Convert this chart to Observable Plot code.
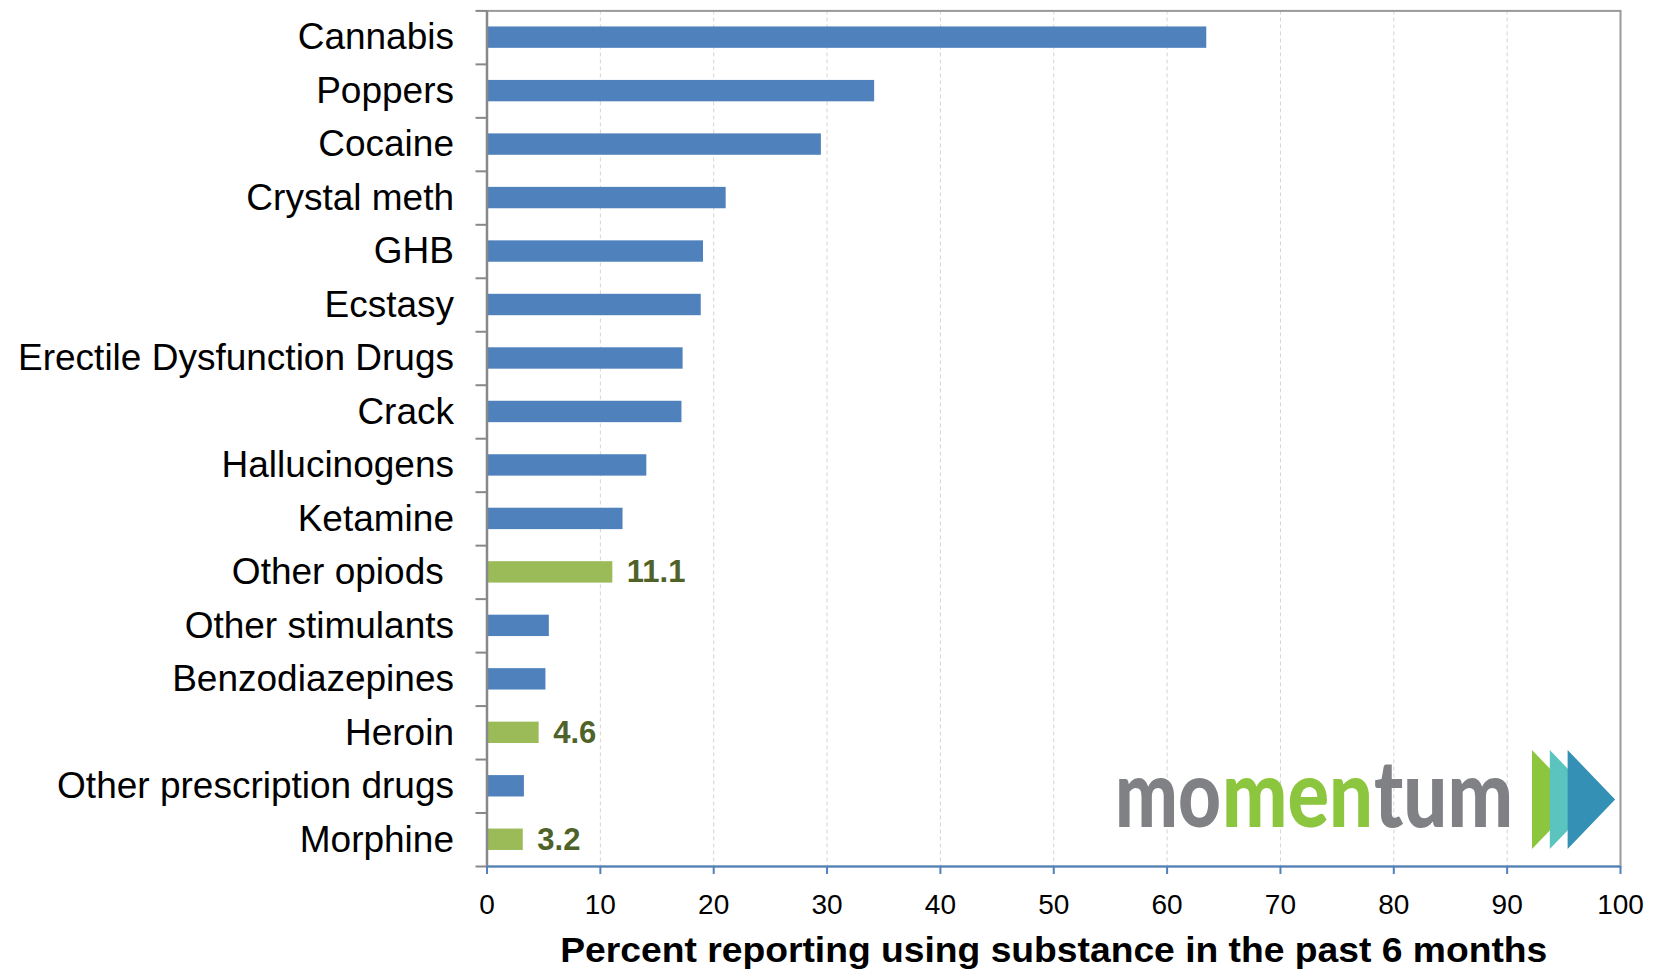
<!DOCTYPE html>
<html><head><meta charset="utf-8">
<script src="https://cdn.jsdelivr.net/npm/d3@7"></script>
<script src="https://cdn.jsdelivr.net/npm/@observablehq/plot@0.6"></script>
<style>
html,body{margin:0;padding:0;background:#fff;}
#wrap{position:relative;width:1654px;height:970px;overflow:hidden;background:#fff;}
#logo{position:absolute;left:0;top:0;pointer-events:none;}
</style></head><body><div id="wrap"></div>
<script>
// ---- data ----
const categories = ["Cannabis","Poppers","Cocaine","Crystal meth","GHB","Ecstasy","Erectile Dysfunction Drugs","Crack","Hallucinogens","Ketamine","Other opiods","Other stimulants","Benzodiazepines","Heroin","Other prescription drugs","Morphine"];
const values = [63.5,34.2,29.5,21.1,19.1,18.9,17.3,17.2,14.1,12.0,11.1,5.5,5.2,4.6,3.3,3.2];
const highlighted = ["Other opiods","Heroin","Morphine"];
const xTicks = [0,10,20,30,40,50,60,70,80,90,100];
const xTitle = "Percent reporting using substance in the past 6 months";
const logoWord = ["mo","men","tum"];
const logoWordColors = ["#808184","#8cc63f","#808184"];
const logoArrowColors = ["#8cc63f","#5cc4be","#3590b5"];

const blue = "#4f81bd", green = "#9bbb59", labelGreen = "#4f6228";
const data = categories.map((name, i) => ({name, value: values[i], hi: highlighted.includes(name)}));

const W = 1654, H = 970, mt = 10.4, mb = 104, ml = 486.5, mr = 34;
const step = (H - mt - mb) / categories.length;
const last = categories[categories.length - 1];

const chart = Plot.plot({
  width: W, height: H,
  marginTop: mt, marginBottom: mb, marginLeft: ml, marginRight: mr,
  style: {fontFamily: "'Liberation Sans', Arial, sans-serif", background: "#fff", color: "#000", overflow: "visible"},
  x: {domain: [0, 100]},
  y: {domain: categories, paddingInner: 0.6, paddingOuter: 0.3, round: false},
  marks: [
    Plot.gridX(xTicks.filter(t => t > 0 && t < 100), {stroke: "#d4d4d4", strokeOpacity: 1, strokeWidth: 1, strokeDasharray: "4,3"}),
    Plot.frame({stroke: "#9a9a9a", strokeWidth: 2}),
    Plot.barX(data.filter(d => !d.hi), {x: "value", y: "name", fill: blue}),
    Plot.barX(data.filter(d => d.hi), {x: "value", y: "name", fill: green}),
    Plot.ruleX([0], {stroke: "#888", strokeWidth: 2.5}),
    Plot.ruleY([last], {x1: 0, x2: 100, dy: step / 2, stroke: blue, strokeWidth: 2}),
    Plot.axisX({ticks: xTicks, tickSize: 8, tickPadding: 20, fontSize: 28, stroke: blue, strokeWidth: 2, fill: "#000", label: null}),
    Plot.axisY({tickSize: 0, tickPadding: 33, fontSize: 37, fill: "#000", label: null,
      tickFormat: d => d === "Other opiods" ? d + "\u00a0" : d}),
    Plot.axisY({tickSize: 11, dy: -step / 2, stroke: "#888", strokeWidth: 2, tickFormat: () => "", label: null}),
    Plot.axisY({ticks: [last], tickSize: 11, dy: step / 2, stroke: "#888", strokeWidth: 2, tickFormat: () => "", label: null}),
    Plot.text(data.filter(d => d.hi), {x: "value", y: "name", text: d => d.value.toFixed(1), textAnchor: "start", dx: 14, fontSize: 31, fontWeight: "bold", fill: labelGreen}),
    Plot.text([xTitle], {text: d => d, frameAnchor: "bottom", lineAnchor: "bottom", dy: 95.7, fontSize: 35, fontWeight: "bold", fill: "#000"})
  ]
});
document.getElementById("wrap").appendChild(chart);

// stretch the axis title to the reference width
d3.select(chart).selectAll("text").filter(function(){ return this.textContent === xTitle; })
  .attr("textLength", 987).attr("lengthAdjust", "spacingAndGlyphs");

// ---- logo overlay ----
const logo = d3.select("#wrap").append("svg").attr("id", "logo").attr("width", W).attr("height", H);
const partX = [1115, 1222, 1374], partW = [106, 151, 139];
logoWord.forEach((w, i) => {
  const g = logo.append("g");
  const txt = g.append("text").attr("x", 0).attr("y", 0)
    .attr("font-family", "Lato, 'Open Sans', sans-serif").attr("font-weight", 900).attr("font-size", 94)
    .attr("fill", logoWordColors[i]).text(w);
  const natural = txt.node().getComputedTextLength() || partW[i];
  g.attr("transform", `translate(${partX[i]},827) scale(${partW[i] / natural},1)`);
});
logoArrowColors.forEach((c, i) => {
  const L = 1532 + i * 17.8;
  logo.append("polygon").attr("points", `${L},750 ${L + 47.5},799.5 ${L},849`).attr("fill", c);
});
</script></body></html>
